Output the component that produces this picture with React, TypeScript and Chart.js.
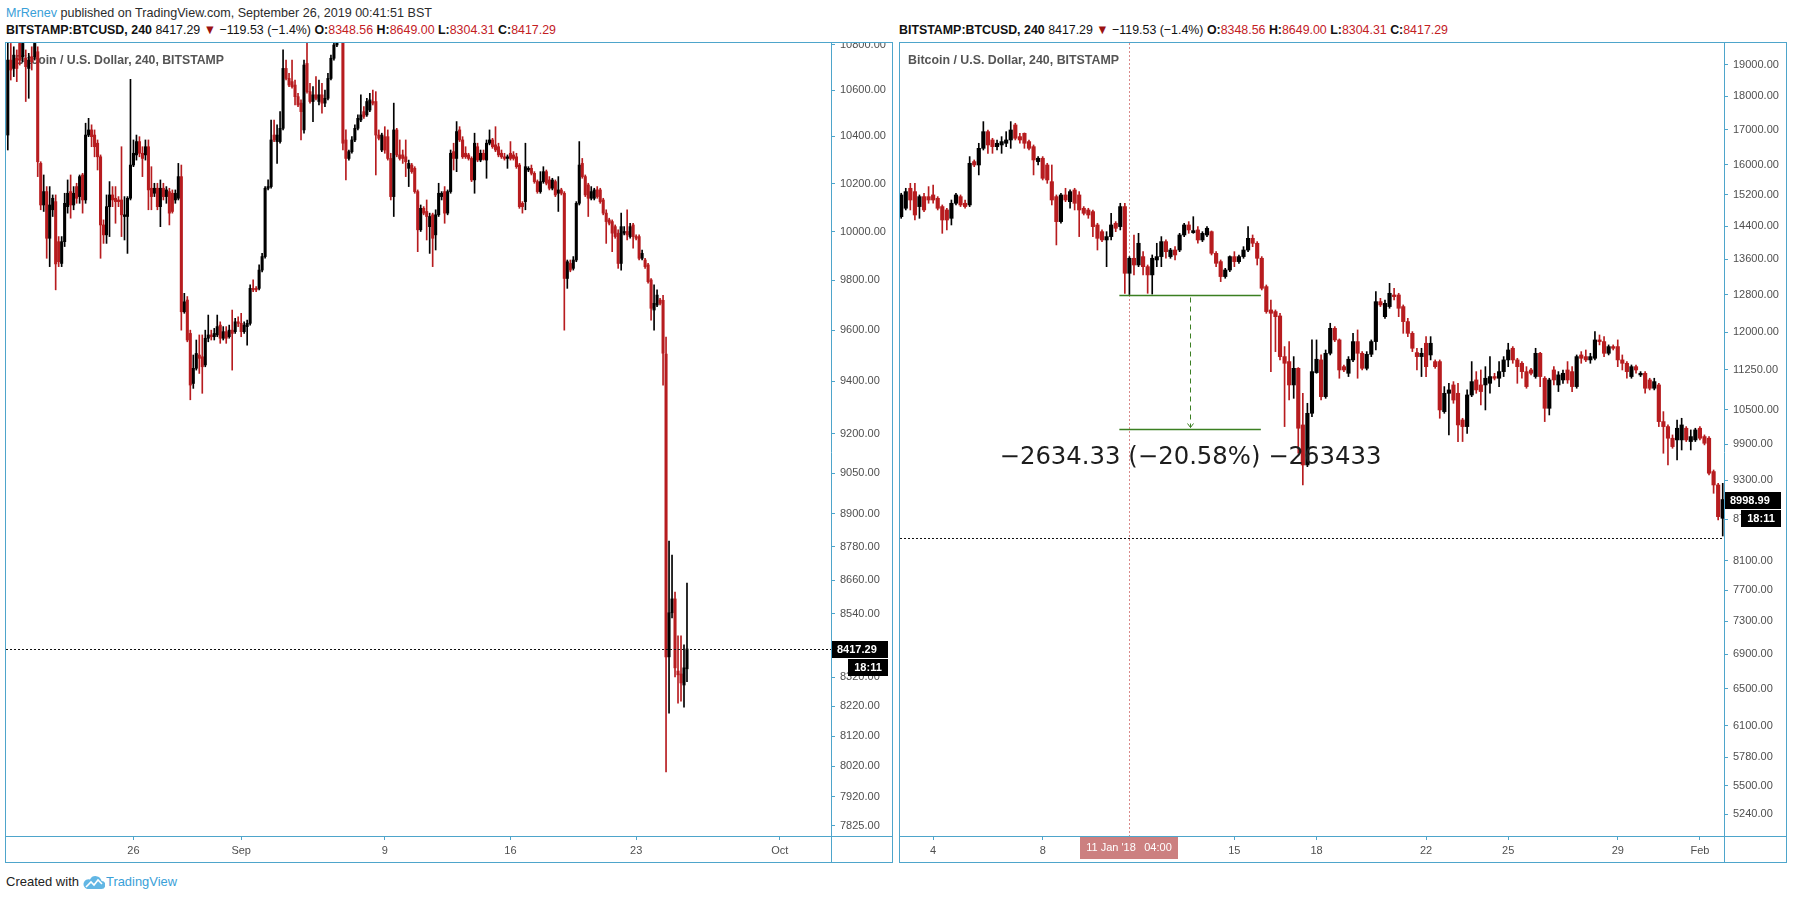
import React, { useEffect, useLayoutEffect, useRef } from "react";
import { Chart, registerables } from "chart.js";

Chart.register(...registerables);

// ---------------- DATA ----------------
// Left panel: BITSTAMP:BTCUSD 4h candles, Aug 19 2019 00:00 -> Sep 25 2019 (index = 4h step)
const leftOpen = [
  10406, 10733, 10696, 10741, 10807, 10748, 10741, 10696, 10748, 10748,
  10770, 10285, 10110, 10166, 9972, 10090, 10124, 9958, 9869, 9958,
  10103, 10166, 10110, 10187, 10145, 10236, 10131, 10406, 10428, 10406,
  10371, 10313, 10027, 9986, 10103, 10152, 10138, 10131, 10131, 10062,
  10062, 10138, 10278, 10321, 10378, 10328, 10321, 10356, 10180, 10159,
  10180, 10103, 10180, 10145, 10166, 10159, 10131, 10138, 10229, 9674,
  9721, 9588, 9392, 9451, 9503, 9496, 9464, 9569, 9582, 9575,
  9582, 9621, 9569, 9595, 9575, 9601, 9595, 9634, 9628, 9595,
  9615, 9628, 9768, 9768, 9768, 9842, 9897, 10180, 10187, 10406,
  10378, 10378, 10435, 10696, 10652, 10638, 10623, 10572, 10544, 10428,
  10718, 10594, 10551, 10580, 10551, 10580, 10544, 10565, 10652, 10741,
  10800, 10867, 10889, 10385, 10306, 10335, 10385, 10435, 10471, 10507,
  10493, 10514, 10551, 10551, 10406, 10342, 10399, 10399, 10306, 10145,
  10428, 10321, 10321, 10313, 10264, 10278, 10264, 10166, 10007, 10096,
  10083, 10020, 10069, 9986, 10069, 10145, 10166, 10076, 10166, 10335,
  10306, 10428, 10385, 10328, 10321, 10306, 10215, 10356, 10299, 10328,
  10299, 10371, 10385, 10364, 10356, 10328, 10313, 10306, 10328, 10321,
  10313, 10278, 10117, 10124, 10257, 10264, 10243, 10208, 10166, 10208,
  10250, 10215, 10180, 10208, 10159, 10173, 10159, 9808, 9869, 9849,
  9883, 10117, 10285, 10229, 10194, 10138, 10138, 10173, 10173, 10131,
  10076, 10048, 10041, 10020, 9993, 9869, 9993, 10000, 9979, 10027,
  9979, 9979, 9890, 9883, 9863, 9802, 9681, 9701, 9721, 9720,
  9507, 8390, 8544, 8593, 8341, 8331, 8293, 8348.56,
];
const leftHigh = [
  10840, 10807, 10792, 10778, 10850, 10850, 10778, 10763, 10792, 10830,
  10792, 10292, 10236, 10187, 10187, 10152, 10152, 9979, 9979, 10159,
  10215, 10236, 10187, 10201, 10236, 10243, 10457, 10478, 10450, 10428,
  10385, 10321, 10048, 10152, 10208, 10187, 10187, 10145, 10356, 10145,
  10145, 10648, 10385, 10406, 10399, 10356, 10385, 10385, 10271, 10201,
  10201, 10215, 10201, 10187, 10180, 10173, 10173, 10285, 10278, 9748,
  9735, 9601, 9503, 9562, 9582, 9582, 9601, 9661, 9601, 9608,
  9661, 9634, 9615, 9615, 9621, 9681, 9648, 9654, 9668, 9634,
  9641, 9782, 9802, 9775, 9863, 9910, 10187, 10215, 10471, 10471,
  10450, 10507, 10778, 10733, 10674, 10733, 10645, 10587, 10558, 10733,
  10807, 10631, 10616, 10660, 10645, 10631, 10601, 10674, 10755, 10815,
  10911, 10926, 10911, 10428, 10342, 10399, 10450, 10493, 10580, 10529,
  10565, 10587, 10601, 10594, 10428, 10414, 10442, 10428, 10328, 10544,
  10435, 10385, 10342, 10385, 10299, 10285, 10271, 10173, 10110, 10103,
  10131, 10076, 10076, 10090, 10201, 10166, 10187, 10173, 10342, 10371,
  10464, 10442, 10399, 10356, 10328, 10313, 10414, 10371, 10342, 10342,
  10385, 10428, 10392, 10442, 10371, 10342, 10328, 10321, 10378, 10335,
  10328, 10285, 10124, 10371, 10271, 10278, 10250, 10215, 10250, 10271,
  10257, 10229, 10222, 10215, 10229, 10180, 10166, 9883, 9883, 9897,
  10124, 10378, 10306, 10236, 10201, 10187, 10180, 10187, 10180, 10138,
  10090, 10055, 10048, 10027, 10007, 10076, 10020, 10090, 10034, 10034,
  9986, 9986, 9924, 9890, 9869, 9808, 9782, 9762, 9728, 9740,
  9574, 8801, 8750, 8617, 8463, 8463, 8432, 8649,
];
const leftLow = [
  10342, 10645, 10660, 10638, 10711, 10726, 10551, 10565, 10689, 10733,
  10229, 10090, 10083, 9890, 9856, 10062, 9762, 9856, 9856, 9938,
  10076, 10055, 10090, 10117, 10117, 10076, 10117, 10399, 10356, 10313,
  10257, 9890, 9951, 9951, 9979, 10103, 10034, 10103, 9979, 9965,
  9910, 10131, 10271, 10299, 10313, 10229, 10299, 10090, 10090, 10145,
  10090, 10020, 10131, 10117, 10027, 10076, 10117, 10131, 9601, 9668,
  9555, 9329, 9373, 9444, 9431, 9354, 9457, 9555, 9562, 9562,
  9575, 9549, 9562, 9549, 9569, 9444, 9588, 9615, 9575, 9588,
  9542, 9621, 9755, 9755, 9762, 9835, 9890, 10173, 10180, 10378,
  10285, 10371, 10428, 10645, 10616, 10609, 10536, 10529, 10385, 10414,
  10587, 10544, 10464, 10558, 10536, 10500, 10529, 10558, 10645, 10733,
  10792, 10860, 10342, 10215, 10299, 10328, 10378, 10428, 10464, 10478,
  10486, 10507, 10536, 10236, 10385, 10335, 10328, 10299, 10131, 10062,
  10313, 10299, 10285, 10229, 10187, 10243, 10159, 9917, 10000, 10069,
  9965, 9910, 9856, 9924, 10062, 10131, 10034, 10069, 10159, 10257,
  10250, 10378, 10306, 10306, 10299, 10208, 10159, 10292, 10292, 10299,
  10222, 10364, 10349, 10335, 10313, 10306, 10299, 10264, 10299, 10299,
  10264, 10096, 10076, 10090, 10250, 10236, 10201, 10159, 10159, 10201,
  10194, 10173, 10173, 10145, 10083, 10152, 9601, 9768, 9835, 9842,
  9876, 10110, 10222, 10145, 10062, 10131, 10131, 10138, 10117, 10069,
  9951, 10027, 9917, 9972, 9849, 9842, 9986, 9965, 9972, 9931,
  9965, 9883, 9883, 9849, 9789, 9641, 9601, 9694, 9701, 9385,
  8001, 8197, 8526, 8321, 8231, 8238, 8218, 8304.31,
];
const leftClose = [
  10733, 10689, 10755, 10696, 10733, 10807, 10704, 10733, 10726, 10807,
  10292, 10110, 10166, 9972, 10110, 10138, 9867, 9876, 9958, 10117,
  10159, 10110, 10159, 10138, 10229, 10131, 10406, 10428, 10399, 10356,
  10313, 10027, 9986, 10103, 10152, 10131, 10124, 10124, 10069, 10069,
  10138, 10278, 10328, 10378, 10328, 10306, 10356, 10173, 10145, 10180,
  10103, 10180, 10145, 10173, 10076, 10083, 10159, 10229, 9674, 9714,
  9562, 9386, 9451, 9509, 9490, 9457, 9569, 9582, 9575, 9588,
  9615, 9569, 9595, 9569, 9601, 9588, 9634, 9628, 9595, 9621,
  9628, 9768, 9762, 9762, 9842, 9897, 10180, 10187, 10385, 10385,
  10406, 10435, 10696, 10652, 10623, 10616, 10572, 10536, 10507, 10711,
  10594, 10551, 10580, 10565, 10580, 10544, 10565, 10652, 10741, 10800,
  10867, 10889, 10371, 10306, 10335, 10385, 10435, 10478, 10493, 10486,
  10551, 10558, 10544, 10406, 10392, 10406, 10342, 10306, 10145, 10428,
  10321, 10306, 10306, 10292, 10285, 10250, 10166, 10007, 10096, 10076,
  10062, 10062, 9972, 10069, 10159, 10159, 10076, 10166, 10328, 10306,
  10421, 10385, 10313, 10313, 10306, 10215, 10371, 10299, 10328, 10302,
  10371, 10385, 10356, 10342, 10321, 10313, 10306, 10313, 10306, 10306,
  10271, 10103, 10103, 10271, 10264, 10243, 10208, 10166, 10208, 10250,
  10201, 10180, 10215, 10152, 10173, 10159, 9808, 9876, 9842, 9883,
  10117, 10278, 10229, 10152, 10138, 10166, 10173, 10145, 10124, 10076,
  10041, 10034, 9993, 9979, 9869, 10020, 10000, 9986, 10020, 9979,
  9972, 9890, 9910, 9856, 9795, 9688, 9708, 9741, 9708, 9510,
  8390, 8544, 8593, 8352, 8328, 8300, 8352, 8417.29,
];
const leftTimeTicks = [42, 78, 126, 168, 210, 258];
const leftTimeLabels = ["26", "Sep", "9", "16", "23", "Oct"];
const leftPriceTicks = [
  10800, 10600, 10400, 10200, 10000, 9800, 9600, 9400, 9200, 9050, 8900,
  8780, 8660, 8540, 8420, 8320, 8220, 8120, 8020, 7920, 7825,
];

// Right panel: 4h candles, Jan 2 2018 20:00 -> Feb 1 2018 16:00
const rightOpen = [
  14634, 14847, 15366, 15278, 14890, 15147, 15147, 15191, 15104, 14890,
  14804, 14593, 14975, 15147, 14975, 14932, 16087, 15994, 16459, 16937,
  16697, 16506, 16554, 16602, 16697, 17134, 16793, 16888, 16650, 16506,
  16087, 16180, 15994, 15542, 15147, 14510, 15191, 15017, 15322, 15191,
  14847, 14804, 14762, 14427, 14262, 14060, 14141, 14469, 14386, 14890,
  13277, 13624, 13468, 13663, 13429, 13240, 13585, 13663, 14020, 13663,
  13819, 13819, 14181, 14427, 14238, 14304, 14060, 14181, 14262, 13741,
  13546, 13202, 13353, 13663, 13546, 13663, 13819, 14100, 13980, 13624,
  12976, 12466, 12431, 12338, 11505, 11407, 10958, 11276, 10230, 9550,
  10437, 11193, 11440, 10740, 11571, 12079, 11840, 11308, 11180, 11440,
  11806, 11571, 11276, 11551, 11806, 12645, 12323, 12538, 12791, 12791,
  12538, 12219, 11975, 11584, 11505, 11772, 11538, 11407, 11407, 10467,
  10802, 10958, 10802, 10318, 10201, 10771, 11053, 10958, 10958, 10989,
  11117, 11085, 11212, 11440, 11671, 11440, 11374, 11212, 11244, 11117,
  11571, 11085, 10527, 11244, 10958, 11053, 11244, 11212, 10927, 11538,
  11505, 11440, 11472, 11840, 11806, 11571, 11705, 11705, 11440, 11374,
  11117, 11308, 11149, 11180, 11053, 10896, 10958, 10289, 10201, 9999,
  9970, 9970, 10172, 9942, 9970, 10172, 10027, 9999, 9442, 9227,
  8713,
];
const rightHigh = [
  15235, 15366, 15497, 15497, 15191, 15235, 15410, 15453, 15147, 14932,
  14847, 15060, 15235, 15191, 15060, 16226, 16133, 16602, 17232, 16986,
  16745, 16697, 16793, 16937, 17232, 17183, 16888, 16900, 16697, 16554,
  16226, 16226, 16041, 15994, 15191, 15235, 15366, 15322, 15366, 15278,
  14890, 14847, 14804, 14469, 14304, 14262, 14719, 14510, 14975, 14975,
  13663, 14181, 14221, 13780, 13468, 13702, 13980, 14141, 14060, 13859,
  13899, 14221, 14469, 14510, 14634, 14386, 14262, 14386, 14280, 13780,
  13585, 13391, 13680, 13780, 13702, 13899, 14386, 14181, 14020, 13663,
  13013, 12681, 12466, 12395, 11705, 11806, 11505, 11290, 10802, 10618,
  11840, 11840, 11538, 11637, 12184, 12114, 11860, 11341, 11505, 11975,
  12045, 11604, 11604, 11840, 12865, 12718, 12681, 13050, 12939, 12828,
  12574, 12288, 12010, 11671, 11671, 11907, 11907, 11440, 11440, 10927,
  10989, 11021, 10989, 10348, 10865, 11407, 11212, 11244, 11308, 11505,
  11180, 11407, 11505, 11772, 11705, 11472, 11407, 11308, 11276, 11671,
  11590, 11117, 11085, 11308, 11212, 11244, 11407, 11308, 11538, 11604,
  11637, 11571, 12010, 11941, 11907, 11739, 11739, 11840, 11538, 11407,
  11341, 11341, 11212, 11212, 11085, 11085, 10989, 10467, 10230, 10056,
  10318, 10348, 10201, 10143, 10172, 10201, 10056, 10027, 9468, 9253,
  9253,
];
const rightLow = [
  14593, 14804, 14804, 14551, 14593, 14762, 14975, 14975, 14804, 14221,
  14304, 14427, 14932, 14890, 14847, 14890, 15948, 15723, 16411, 16318,
  16318, 16411, 16318, 16506, 16459, 16697, 16602, 16459, 16411, 15723,
  15994, 15587, 15497, 14932, 13940, 14469, 15017, 14847, 14804, 14141,
  14677, 14593, 14141, 13819, 14020, 13429, 14060, 14262, 14304, 12828,
  12800.4, 13240, 13429, 13240, 12828, 12810, 13429, 13429, 13624, 13624,
  13585, 13780, 14141, 14221, 14221, 13980, 14020, 14141, 13702, 13429,
  13088, 13164, 13315, 13429, 13507, 13624, 13780, 13899, 13468, 12902,
  12395, 11212, 11604, 11440, 10201, 10678, 10709, 9744, 9227, 9522,
  10377, 11180, 10678, 10709, 11538, 11806, 11085, 11212, 11117, 11407,
  11085, 11244, 11244, 11505, 11637, 12538, 12288, 12502, 12681, 12323,
  11975, 11907, 11604, 11244, 11117, 11117, 11440, 11276, 10348, 10437,
  10056, 10618, 9942, 9942, 10084, 10740, 10802, 10588, 10497, 10802,
  11053, 10927, 11117, 11308, 11374, 10989, 11085, 10896, 11149, 11085,
  10927, 10289, 10407, 10958, 10834, 10989, 10989, 10834, 10896, 11374,
  11407, 11374, 11440, 11739, 11505, 11538, 11637, 11308, 11244, 11085,
  11085, 11180, 11117, 10802, 10865, 10865, 10201, 9744, 9550, 9828,
  9633, 9799, 9942, 9799, 9942, 9970, 9885, 9388, 9096, 8689,
  8452,
];
const rightClose = [
  15191, 15278, 15060, 14677, 15147, 14804, 15060, 15060, 14847, 14551,
  14551, 14975, 15191, 14932, 14890, 16041, 15994, 16459, 16937, 16554,
  16506, 16602, 16650, 16697, 16986, 16745, 16697, 16602, 16459, 16133,
  16180, 15632, 15587, 15060, 14510, 15191, 15060, 15278, 14975, 14804,
  14719, 14677, 14386, 14100, 14060, 14141, 14427, 14345, 14890, 13277,
  13624, 13468, 13980, 13429, 13240, 13624, 13663, 14020, 13780, 13819,
  13702, 14181, 14427, 14304, 14287, 14060, 14221, 14345, 13741, 13507,
  13202, 13353, 13663, 13546, 13663, 13819, 14100, 13980, 13624, 12939,
  12431, 12395, 12323, 11505, 11374, 10958, 11276, 10172, 9550, 10437,
  11212, 11453, 10740, 11571, 12079, 11840, 11244, 11244, 11453, 11806,
  11571, 11276, 11551, 11806, 12645, 12574, 12609, 12828, 12755, 12502,
  12219, 11975, 11671, 11505, 11571, 11308, 11772, 11308, 10497, 10802,
  10865, 10678, 10230, 10201, 10771, 11021, 10865, 10834, 11085, 11117,
  11085, 11212, 11440, 11637, 11440, 11308, 11212, 10927, 11180, 11571,
  11117, 10527, 11053, 11053, 11149, 11180, 11053, 10927, 11505, 11472,
  11440, 11505, 11840, 11806, 11571, 11705, 11671, 11440, 11374, 11212,
  11308, 11244, 11180, 10896, 10896, 11021, 10289, 10201, 9999, 9856,
  10172, 10230, 9970, 10027, 10143, 9999, 9913, 9415, 9227, 8738,
  8998.99,
];
const rightTimeTicks = [7, 31, 49, 73, 91, 115, 133, 157, 175];
const rightTimeLabels = ["4", "8", "11", "15", "18", "22", "25", "29", "Feb"];
const rightPriceTicks = [
  19000, 18000, 17000, 16000, 15200, 14400, 13600, 12800, 12000, 11250,
  10500, 9900, 9300, 8700, 8100, 7700, 7300, 6900, 6500, 6100, 5780, 5500, 5240,
];

const currentPrice = 8417.29;
const priceChange = "\u2212119.53 (\u22121.4%)";
const countdown = "18:11";
const crosshairIndex = 50; // 11 Jan '18 04:00
const crosshairDate = "11 Jan '18";
const crosshairTime = "04:00";
const measureFrom = 12800.4;
const measureTo = 10166.07;
const measureText = "\u22122634.33 (\u221220.58%) \u2212263433";

// ---------------- STYLE ----------------
const BLUE = "#4ea5cb";
const RED = "#b71c1f";
const BLACK = "#000000";
const GREEN = "#3b7f22";
const AXIS_TEXT = "#4f4f4f";
const AXIS_FONT = "'Liberation Sans', Arial, sans-serif";
const HEADER_FONT = "'Liberation Sans Narrow', 'Liberation Sans', Arial, sans-serif";
const VAL_RED = "#c3201f";

type PanelCfg = {
  open: number[];
  high: number[];
  low: number[];
  close: number[];
  bodyWidth: number;
  xMin: number;
  xMax: number;
  xTicks: number[];
  xLabels: string[];
  yMin: number;
  yMax: number;
  yTicks: number[];
  yAxisWidth: number;
  legendX: number;
  legendWidth: number;
  labelValue: number;
  cross?: boolean;
  measure?: boolean;
};

function overlay(cfg: PanelCfg) {
  return {
    id: "tvOverlay",
    beforeDatasetsDraw(chart: any) {
      const { ctx, chartArea: a } = chart;
      const xs = chart.scales.x;
      ctx.save();
      ctx.font = "bold 12px " + AXIS_FONT;
      ctx.fillStyle = "#555555";
      ctx.textBaseline = "middle";
      const legend = "Bitcoin / U.S. Dollar, 240, BITSTAMP";
      const w = ctx.measureText(legend).width;
      ctx.translate(a.left + cfg.legendX, a.top + 17.7);
      ctx.scale(cfg.legendWidth / w, 1);
      ctx.fillText(legend, 0, 0);
      ctx.restore();
      if (cfg.cross) {
        const px = Math.round(xs.getPixelForValue(crosshairIndex)) + 0.5;
        ctx.save();
        ctx.strokeStyle = "#d98a8a";
        ctx.lineWidth = 1;
        ctx.setLineDash([2, 2]);
        ctx.beginPath();
        ctx.moveTo(px, a.top);
        ctx.lineTo(px, a.bottom + 22);
        ctx.stroke();
        ctx.restore();
      }
    },
    afterDatasetsDraw(chart: any) {
      const { ctx, chartArea: a } = chart;
      const xs = chart.scales.x;
      const ys = chart.scales.y;
      ctx.save();
      const py = Math.round(ys.getPixelForValue(currentPrice)) + 0.5;
      ctx.strokeStyle = "#111";
      ctx.lineWidth = 1;
      ctx.setLineDash([2, 2]);
      ctx.beginPath();
      ctx.moveTo(a.left, py);
      ctx.lineTo(a.right, py);
      ctx.stroke();
      ctx.restore();
      if (cfg.measure) {
        const y0 = Math.round(ys.getPixelForValue(measureFrom)) + 0.5;
        const y1 = Math.round(ys.getPixelForValue(measureTo)) + 0.5;
        const x0 = xs.getPixelForValue(47.8);
        const x1 = xs.getPixelForValue(78.8);
        const xm = Math.round(xs.getPixelForValue(63.3)) + 0.5;
        ctx.save();
        ctx.strokeStyle = GREEN;
        ctx.lineWidth = 1.5;
        ctx.beginPath();
        ctx.moveTo(x0, y0);
        ctx.lineTo(x1, y0);
        ctx.moveTo(x0, y1);
        ctx.lineTo(x1, y1);
        ctx.stroke();
        ctx.lineWidth = 1;
        ctx.setLineDash([5, 4]);
        ctx.beginPath();
        ctx.moveTo(xm, y0 + 2);
        ctx.lineTo(xm, y1 - 2);
        ctx.stroke();
        ctx.setLineDash([]);
        ctx.beginPath();
        ctx.moveTo(xm - 3, y1 - 6);
        ctx.lineTo(xm, y1 - 2);
        ctx.lineTo(xm + 3, y1 - 6);
        ctx.stroke();
        ctx.font = "24px 'DejaVu Sans', sans-serif";
        ctx.fillStyle = "#1d1d1d";
        ctx.textBaseline = "middle";
        ctx.textAlign = "center";
        const tw = ctx.measureText(measureText).width;
        ctx.translate(xm, y1 + 28);
        ctx.scale(382 / tw, 1);
        ctx.fillText(measureText, 0, 0);
        ctx.restore();
      }
    },
    afterDraw(chart: any) {
      const { ctx, chartArea: a } = chart;
      const xs = chart.scales.x;
      const ys = chart.scales.y;
      ctx.save();
      ctx.strokeStyle = BLUE;
      ctx.lineWidth = 1;
      ctx.setLineDash([]);
      const sx = Math.round(a.right) + 0.5;
      const sy = Math.round(a.bottom) + 0.5;
      ctx.beginPath();
      ctx.moveTo(sx, 0);
      ctx.lineTo(sx, chart.height);
      ctx.moveTo(0, sy);
      ctx.lineTo(chart.width, sy);
      ctx.stroke();
      // last value label
      const ly = Math.round(ys.getPixelForValue(cfg.labelValue));
      const bx = Math.round(a.right) + 1;
      ctx.fillStyle = "#000";
      ctx.fillRect(bx, ly - 8, 56, 17);
      ctx.fillStyle = "#fff";
      ctx.font = "bold 11px " + AXIS_FONT;
      ctx.textBaseline = "middle";
      ctx.textAlign = "left";
      ctx.fillText(cfg.labelValue.toFixed(2), bx + 5, ly + 0.5);
      ctx.fillStyle = "#000";
      ctx.fillRect(bx + 16, ly + 10, 40, 17);
      ctx.fillStyle = "#fff";
      ctx.textAlign = "center";
      ctx.fillText(countdown, bx + 36, ly + 18.5);
      if (cfg.cross) {
        const px = Math.round(xs.getPixelForValue(crosshairIndex));
        ctx.fillStyle = "#cc8080";
        ctx.fillRect(px - 49, Math.round(a.bottom) + 1, 98, 22);
        ctx.fillStyle = "#fff";
        ctx.font = "11px " + HEADER_FONT;
        ctx.textAlign = "center";
        ctx.fillText(crosshairDate, px - 18, Math.round(a.bottom) + 12);
        ctx.fillText(crosshairTime, px + 29, Math.round(a.bottom) + 12);
      }
      ctx.restore();
    },
  };
}

function CandlePanel({ cfg }: { cfg: PanelCfg }) {
  const ref = useRef<HTMLCanvasElement>(null);
  useEffect(() => {
    const canvas = ref.current;
    if (!canvas) return;
    const { open, high, low, close } = cfg;
    const colors = close.map((c, i) => (c >= open[i] ? BLACK : RED));
    const chart = new Chart(canvas, {
      type: "bar",
      data: {
        datasets: [
          {
            label: "body",
            data: open.map((o, i) => ({ x: i, y: [Math.min(o, close[i]), Math.max(o, close[i])] })) as any,
            backgroundColor: colors,
            barThickness: cfg.bodyWidth,
            minBarLength: 1,
            grouped: false,
            borderWidth: 0,
            order: 0,
          } as any,
          {
            label: "wick",
            data: high.map((h, i) => ({ x: i, y: [low[i], h] })) as any,
            backgroundColor: colors,
            barThickness: 1,
            grouped: false,
            borderWidth: 0,
            order: 1,
          } as any,
        ],
      },
      options: {
        animation: false,
        responsive: false,
        maintainAspectRatio: false,
        events: [],
        layout: { padding: 0 },
        plugins: { legend: { display: false }, tooltip: { enabled: false } },
        scales: {
          x: {
            type: "linear",
            position: "bottom",
            min: cfg.xMin,
            max: cfg.xMax,
            offset: false,
            bounds: "data",
            grid: { display: true, drawOnChartArea: false, drawTicks: true, tickLength: 4, tickColor: BLUE, offset: false },
            border: { display: false },
            afterBuildTicks: (s: any) => {
              s.ticks = cfg.xTicks.map((v) => ({ value: v }));
            },
            afterFit: (s: any) => {
              s.height = 26;
              s.paddingLeft = 0;
              s.paddingRight = 0;
            },
            ticks: {
              autoSkip: false,
              maxRotation: 0,
              padding: 4,
              color: AXIS_TEXT,
              font: { family: AXIS_FONT, size: 11 },
              callback: (_v: any, i: number) => cfg.xLabels[i],
            },
          } as any,
          y: {
            type: "logarithmic",
            position: "right",
            min: cfg.yMin,
            max: cfg.yMax,
            bounds: "data",
            grid: { display: true, drawOnChartArea: false, drawTicks: true, tickLength: 4, tickColor: BLUE },
            border: { display: false },
            afterBuildTicks: (s: any) => {
              s.ticks = cfg.yTicks.map((v) => ({ value: v }));
            },
            afterFit: (s: any) => {
              s.width = cfg.yAxisWidth;
              s.paddingTop = 0;
              s.paddingBottom = 0;
            },
            ticks: {
              autoSkip: false,
              padding: 5,
              color: AXIS_TEXT,
              font: { family: AXIS_FONT, size: 11 },
              callback: (v: any) => Number(v).toFixed(2),
            },
          } as any,
        },
      },
      plugins: [overlay(cfg) as any],
    });
    return () => chart.destroy();
  }, [cfg]);
  return <canvas ref={ref} width={886} height={819} style={{ display: "block", width: 886, height: 819 }} />;
}

function FitLine({ x, y, width, children, color = "#222", size = 13 }: any) {
  const ref = useRef<HTMLDivElement>(null);
  useLayoutEffect(() => {
    const el = ref.current;
    if (!el) return;
    el.style.transform = "none";
    const w = el.getBoundingClientRect().width;
    if (w > 0) el.style.transform = `scaleX(${width / w})`;
  }, [width]);
  return (
    <div
      ref={ref}
      style={{
        position: "absolute",
        left: x,
        top: y,
        whiteSpace: "nowrap",
        transformOrigin: "0 0",
        fontSize: size,
        lineHeight: "16px",
        color,
        fontFamily: HEADER_FONT,
      }}
    >
      {children}
    </div>
  );
}

function SymbolLine({ x, width }: { x: number; width: number }) {
  const n = leftClose.length - 1;
  const red = { color: VAL_RED };
  return (
    <FitLine x={x} y={22} width={width} color="#111">
      <b>BITSTAMP:BTCUSD, 240</b> {currentPrice.toFixed(2)} <span style={{ color: "#9b1111" }}>{"\u25BC"}</span>{" "}
      {priceChange} <b>O:</b>
      <span style={red}>{leftOpen[n].toFixed(2)}</span> <b>H:</b>
      <span style={red}>{leftHigh[n].toFixed(2)}</span> <b>L:</b>
      <span style={red}>{leftLow[n].toFixed(2)}</span> <b>C:</b>
      <span style={red}>{leftClose[n].toFixed(2)}</span>
    </FitLine>
  );
}

const leftCfg: PanelCfg = {
  open: leftOpen,
  high: leftHigh,
  low: leftLow,
  close: leftClose,
  bodyWidth: 2.4,
  xMin: -0.6,
  xMax: 275.13,
  xTicks: leftTimeTicks,
  xLabels: leftTimeLabels,
  yMin: 7792.1,
  yMax: 10808.9,
  yTicks: leftPriceTicks,
  yAxisWidth: 61,
  legendX: 9,
  legendWidth: 209,
  labelValue: currentPrice,
};

const rightCfg: PanelCfg = {
  open: rightOpen,
  high: rightHigh,
  low: rightLow,
  close: rightClose,
  bodyWidth: 3.5,
  xMin: -0.263,
  xMax: 180.28,
  xTicks: rightTimeTicks,
  xLabels: rightTimeLabels,
  yMin: 5046.4,
  yMax: 19725.6,
  yTicks: rightPriceTicks,
  yAxisWidth: 62,
  legendX: 8,
  legendWidth: 211,
  labelValue: rightClose[rightClose.length - 1],
  cross: true,
  measure: true,
};

export default function App() {
  return (
    <div
      style={{
        position: "fixed",
        left: 0,
        top: 0,
        width: 1793,
        height: 899,
        background: "#ffffff",
        overflow: "hidden",
      }}
    >
      <FitLine x={6} y={5} width={426} color="#2b2b2b">
        <span style={{ color: "#3aa0d8" }}>MrRenev</span> published on TradingView.com, September 26, 2019 00:41:51 BST
      </FitLine>
      <SymbolLine x={6} width={550} />
      <SymbolLine x={899} width={549} />
      <div
        style={{
          position: "absolute",
          left: 5,
          top: 42,
          width: 888,
          height: 821,
          boxSizing: "border-box",
          border: `1px solid ${BLUE}`,
        }}
      >
        <CandlePanel cfg={leftCfg} />
      </div>
      <div
        style={{
          position: "absolute",
          left: 899,
          top: 42,
          width: 888,
          height: 821,
          boxSizing: "border-box",
          border: `1px solid ${BLUE}`,
        }}
      >
        <CandlePanel cfg={rightCfg} />
      </div>
      <FitLine x={6} y={874} width={73} color="#222">
        Created with
      </FitLine>
      <svg style={{ position: "absolute", left: 83, top: 874 }} width="22" height="16" viewBox="0 0 22 16">
        <path d="M4 15 H18 A4 4 0 0 0 18.6 7 A6.2 6.2 0 0 0 7 5.5 A4.6 4.6 0 0 0 4 15 Z" fill="#62b6e4" />
        <polyline points="3,13 8,8 11,11 15,6 19,10" stroke="#ffffff" strokeWidth="1.6" fill="none" />
      </svg>
      <FitLine x={106} y={874} width={71} color="#3aa0d8">
        TradingView
      </FitLine>
    </div>
  );
}
